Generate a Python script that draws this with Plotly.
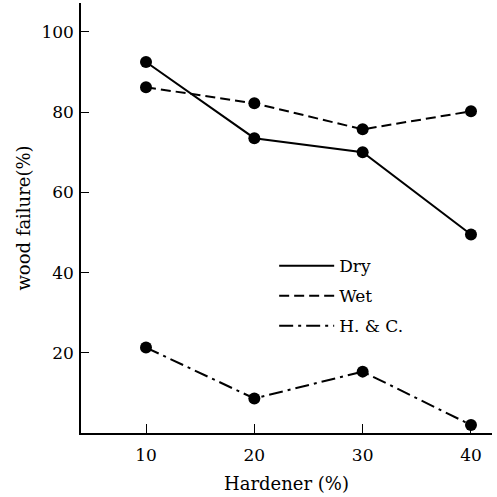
import plotly.graph_objects as go

hardener = [10, 20, 30, 40]
dry = [92.5, 73.5, 70.0, 49.5]
wet = [86.2, 82.2, 75.7, 80.2]
hc = [21.3, 8.6, 15.3, 2.0]

x_ticks = [10, 20, 30, 40]
y_ticks = [20, 40, 60, 80, 100]

FONT = "DejaVu Serif"

series = [
    ("Dry", dry, "solid"),
    ("Wet", wet, "10px,5px"),
    ("H. & C.", hc, "14px,5px,3px,5px"),
]

fig = go.Figure()
for name, vals, dash in series:
    fig.add_trace(go.Scatter(
        x=hardener, y=vals, mode="lines", name=name, legendgroup=name,
        line=dict(color="black", width=2, dash=dash),
    ))
for name, vals, dash in series:
    fig.add_trace(go.Scatter(
        x=hardener, y=vals, mode="markers", showlegend=False, legendgroup=name,
        marker=dict(color="black", size=12),
    ))

fig.update_layout(
    width=497, height=497,
    margin=dict(l=81, r=5, t=3, b=64),
    paper_bgcolor="white", plot_bgcolor="white",
    font=dict(family=FONT, size=17, color="black"),
    showlegend=True,
    legend=dict(
        x=0.47, y=0.43, xanchor="left", yanchor="top",
        bgcolor="rgba(0,0,0,0)", font=dict(family=FONT, size=17),
        itemwidth=55, tracegroupgap=5,
    ),
    xaxis=dict(
        range=[4, 41.94], tickvals=x_ticks, ticks="inside", ticklen=9,
        tickwidth=1.3, tickcolor="black", showline=True, linecolor="black",
        linewidth=1.5, showgrid=False, zeroline=False,
        tickfont=dict(family=FONT, size=17), ticklabelstandoff=6,
        title=dict(text="Hardener (%)", font=dict(family=FONT, size=18), standoff=13),
    ),
    yaxis=dict(
        range=[0, 107.2], tickvals=y_ticks, ticks="inside", ticklen=8,
        tickwidth=1.3, tickcolor="black", showline=True, linecolor="black",
        linewidth=1.5, showgrid=False, zeroline=False,
        tickfont=dict(family=FONT, size=17), ticklabelstandoff=2,
        title=dict(text="wood failure(%)", font=dict(family=FONT, size=18), standoff=6),
    ),
)

fig.write_html("out.html")
